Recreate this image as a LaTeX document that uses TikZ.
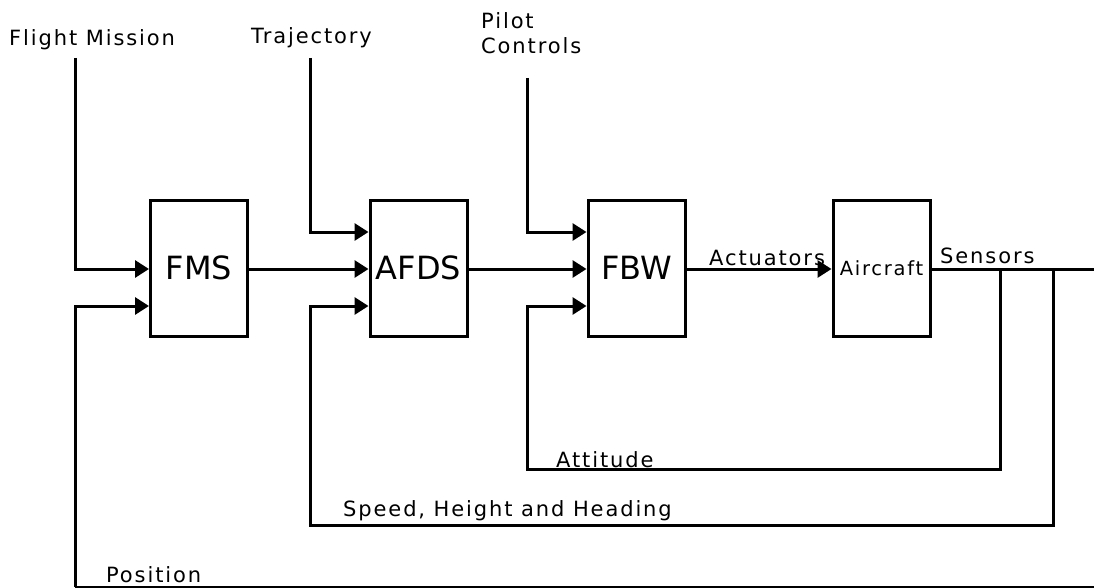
\documentclass[tikz,border=0pt]{standalone}
\usepackage{fontspec}
\setmainfont{DejaVu Sans}
\usetikzlibrary{arrows.meta}
\newfontfamily\lblfont[LetterSpace=9]{DejaVu Sans}
\begin{document}
\begin{tikzpicture}[x=1pt,y=-1pt,
  blk/.style={draw,line width=3pt,minimum width=97pt,minimum height=136pt,inner sep=0pt,font=\fontsize{32}{32}\selectfont},
  wire/.style={line width=3pt},
  arr/.style={line width=3pt,-{Triangle[length=14pt,width=17pt]}},
  lbl/.style={inner sep=0pt,font=\lblfont\fontsize{21}{25}\selectfont}]
\useasboundingbox (0,0) rectangle (1094,588);
\node[blk] (fms) at (199,268) {FMS};
\node[blk] (afds) at (418.5,268) {AFDS};
\node[blk] (fbw) at (636.5,268) {FBW};
\node[blk,font=\lblfont\fontsize{19.5}{20}\selectfont] (ac) at (881.5,268) {Aircraft};
% labels
\node[lbl,anchor=west] (lfm) at (9,40) {Flight Mission};
\node[lbl,anchor=west] (ltr) at (251,38) {Trajectory};
\node[lbl,anchor=west,align=left] (lpc) at (481,33) {Pilot\\Controls};
\node[lbl,anchor=south west] (lact) at (709,266) {Actuators};
\node[lbl,anchor=south west] (lsen) at (940,264) {Sensors};
\node[lbl,anchor=south west] (latt) at (556,468) {Attitude};
\node[lbl,anchor=south west] (lspd) at (343,521) {Speed, Height and Heading};
\node[lbl,anchor=south west] (lpos) at (106,583) {Position};
% coordinates
\coordinate (fmtop) at (75,58);
\coordinate (trtop) at (310,58);
\coordinate (pctop) at (527,78);
\coordinate (right) at (1094,269);
\coordinate (s1) at (1000,269);
\coordinate (s2) at (1053,269);
\coordinate (bot) at (1094,587);
% inputs
\draw[arr] (fmtop) |- (fms.west |- 0,269);
\draw[arr] (75,587) |- (fms.west |- 0,306);
\draw[wire] (75,587) -- (bot);
\draw[arr] (fms.east |- 0,269) -- (afds.west |- 0,269);
\draw[arr] (trtop) |- (afds.west |- 0,232);
\draw[arr] (s2) |- (310,525) |- (afds.west |- 0,306);
\draw[arr] (afds.east |- 0,269) -- (fbw.west |- 0,269);
\draw[arr] (pctop) |- (fbw.west |- 0,232);
\draw[arr] (s1) |- (527,469) |- (fbw.west |- 0,306);
\draw[arr] (fbw.east |- 0,269) -- (ac.west |- 0,269);
\draw[wire] (ac.east |- 0,269) -- (right);
\end{tikzpicture}
\end{document}
